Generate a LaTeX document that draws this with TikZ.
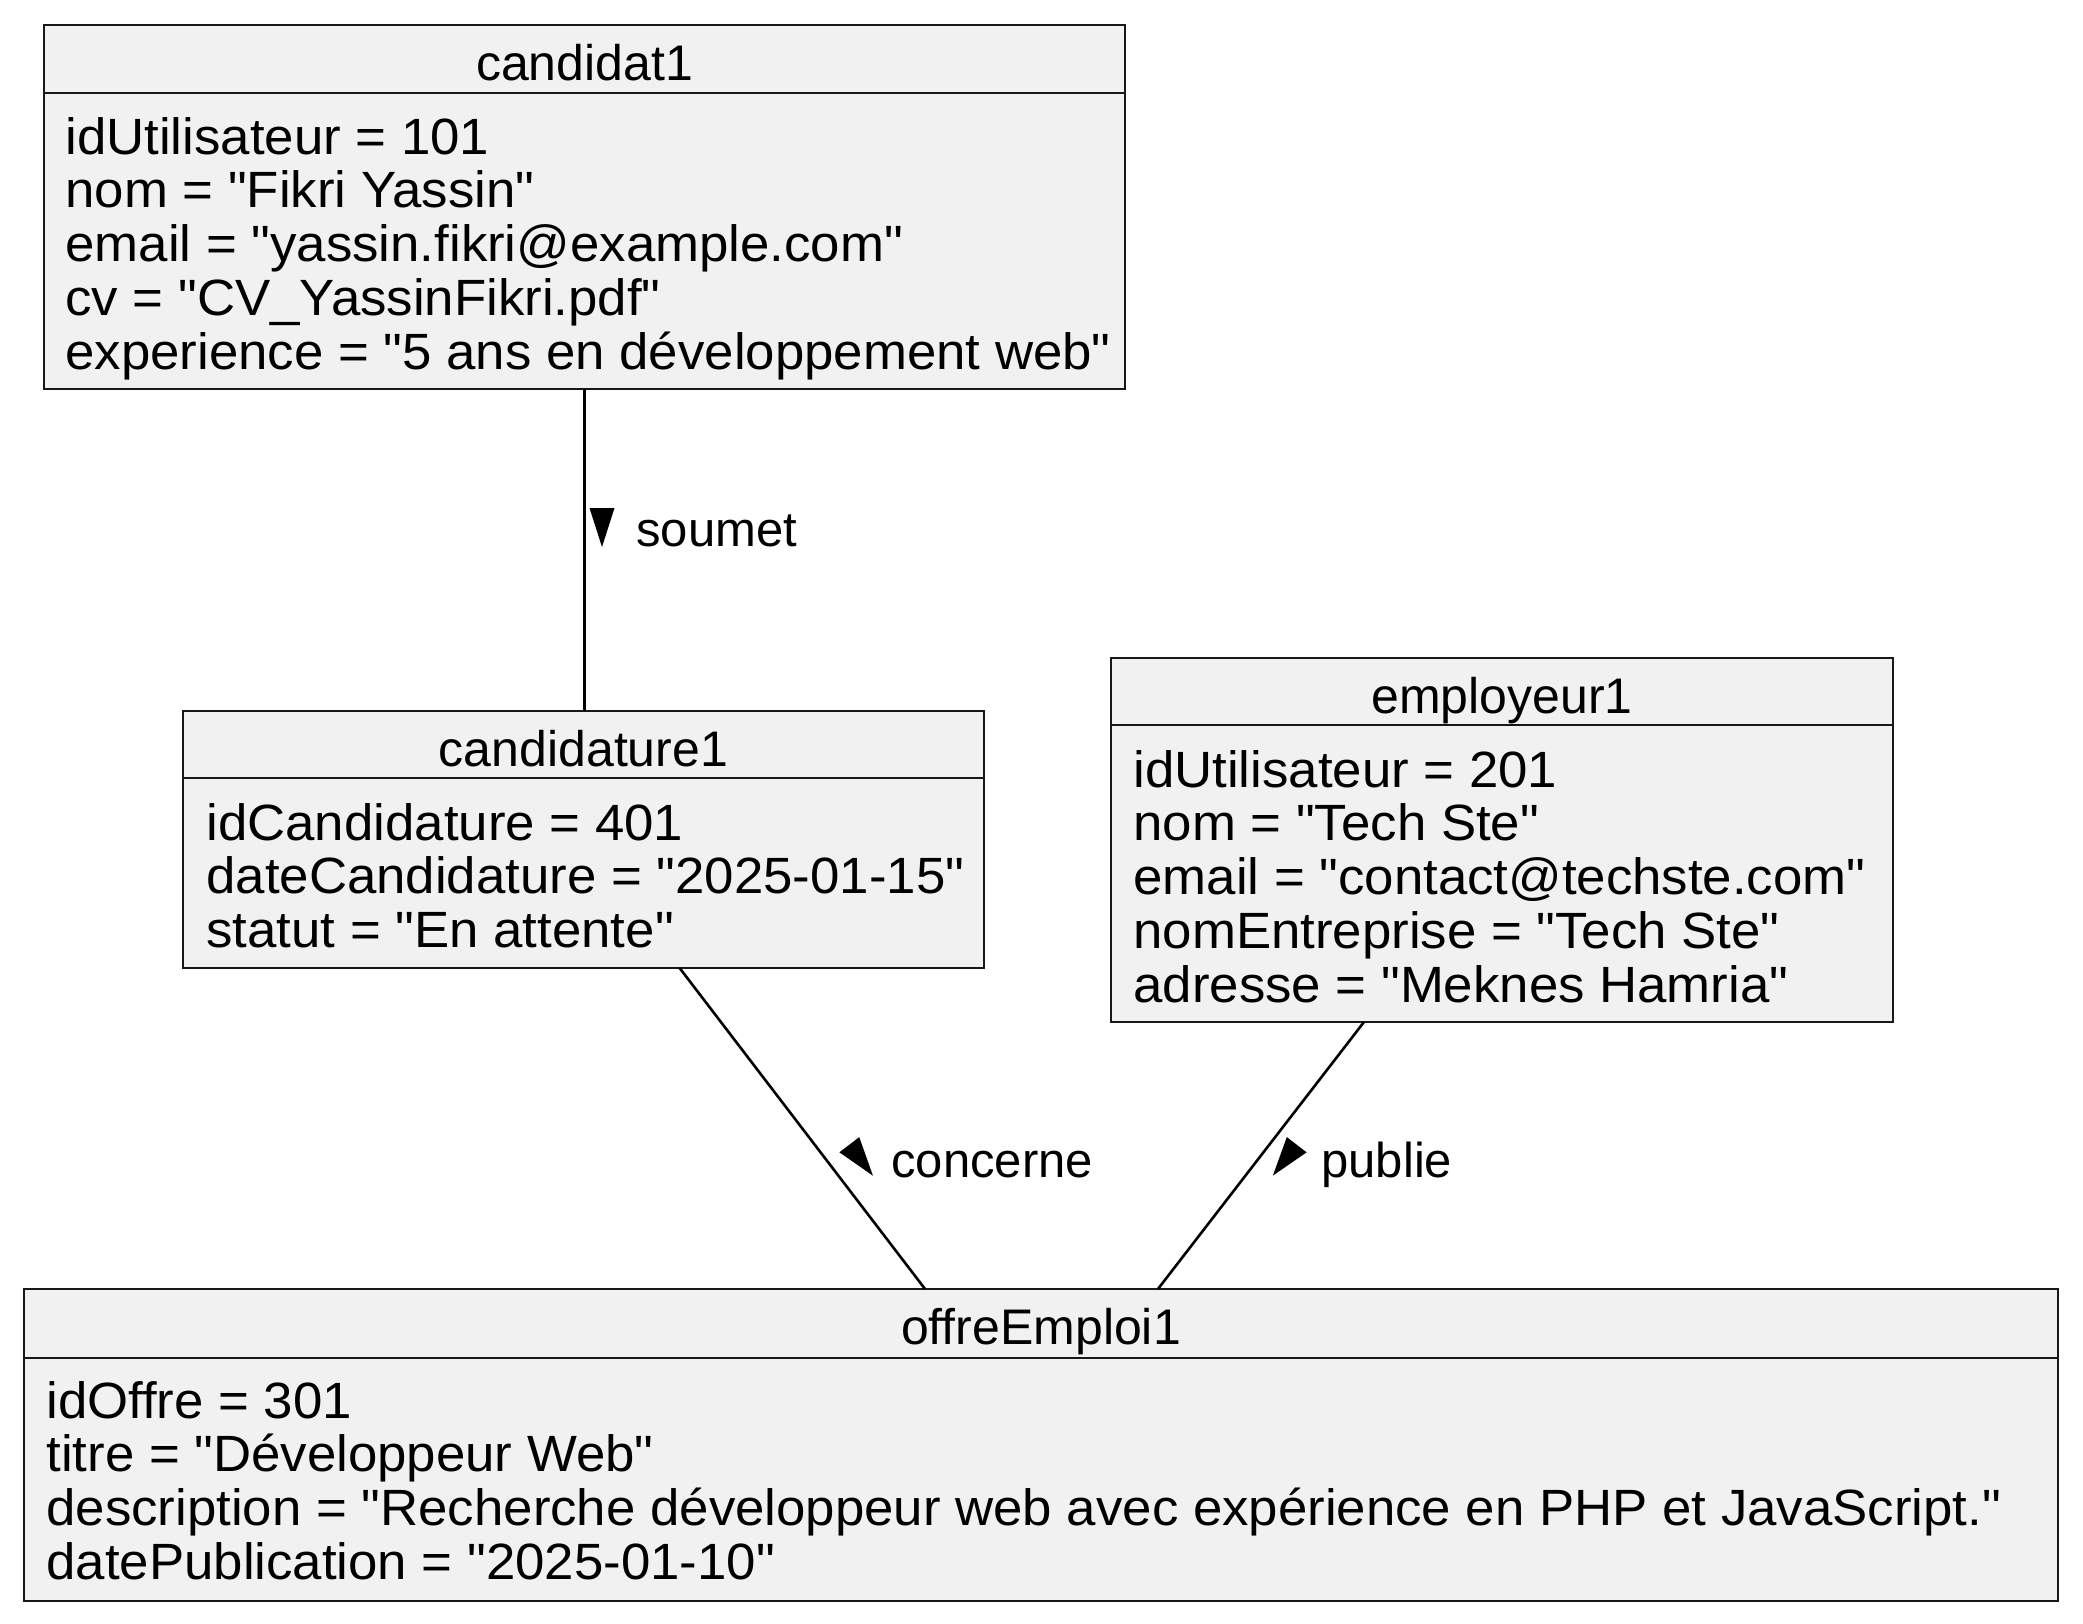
\documentclass[tikz,border=0pt]{standalone}
\usepackage{fontspec}
\setmainfont{Liberation Sans}
\newfontfamily\attrfont{Liberation Sans}[FakeStretch=1.035]
\usetikzlibrary{fit,calc}
\definecolor{objfill}{HTML}{F1F1F1}
\definecolor{objline}{HTML}{181818}
\tikzset{
  objbox/.style={draw=objline, fill=objfill, line width=1pt, inner sep=0pt, outer sep=0pt},
  sepline/.style={draw=objline, line width=1pt},
  objtitle/.style={font=\fontsize{25}{30}\selectfont, inner sep=0pt, anchor=base},
  objattr/.style={font=\attrfont\fontsize{25.5}{30}\selectfont, inner sep=0pt, anchor=base west},
  assoc/.style={draw=black, line width=1.3pt},
  assoclbl/.style={font=\fontsize{24.5}{30}\selectfont, inner sep=0pt, anchor=base west},
}
% filled direction mark: base midpoint, angle
\newcommand{\dirmark}[2]{\fill[shift={#1},rotate=#2] (0,-12.5) -- (0,12.5) -- (39,0) -- cycle;}
\begin{document}
\begin{tikzpicture}[x=0.5pt,y=-0.5pt]
\path[fill=white,use as bounding box] (0,0) rectangle (2083,1623);
% candidat1
\node[objbox,fit={(44,25) (1125,389)}] (cand) {};
\node[objtitle] (cand-t) at (584.5,80) {candidat1};
\draw[sepline] (44,93) -- (1125,93);
\foreach \txt [count=\i] in {idUtilisateur = 101, nom = "Fikri Yassin", email = "yassin.fikri@example.com", cv = "CV\_YassinFikri.pdf", experience = "5 ans en développement web"}
  \node[objattr] (cand-\i) at (65,{154+53.8*(\i-1)}) {\txt};
% candidature1
\node[objbox,fit={(183,711) (984,968)}] (candidature) {};
\node[objtitle] (candidature-t) at (583.5,766) {candidature1};
\draw[sepline] (183,778) -- (984,778);
\foreach \txt [count=\i] in {idCandidature = 401, dateCandidature = "2025-01-15", statut = "En attente"}
  \node[objattr] (candidature-\i) at (206,{840+53.8*(\i-1)}) {\txt};
% employeur1
\node[objbox,fit={(1111,658) (1893,1022)}] (employeur) {};
\node[objtitle] (employeur-t) at (1502,713) {employeur1};
\draw[sepline] (1111,725) -- (1893,725);
\foreach \txt [count=\i] in {idUtilisateur = 201, nom = "Tech Ste", email = "contact@techste.com", nomEntreprise = "Tech Ste", adresse = "Meknes Hamria"}
  \node[objattr] (employeur-\i) at (1133,{787+53.8*(\i-1)}) {\txt};
% offreEmploi1
\node[objbox,fit={(24,1289) (2058,1601)}] (offre) {};
\node[objtitle] (offre-t) at (1041,1344) {offreEmploi1};
\draw[sepline] (24,1358) -- (2058,1358);
\foreach \txt [count=\i] in {idOffre = 301, titre = "Développeur Web", description = "Recherche développeur web avec expérience en PHP et JavaScript.", datePublication = "2025-01-10"}
  \node[objattr] (offre-\i) at (46,{1418+53.8*(\i-1)}) {\txt};
% links
\draw[assoc] (cand.south) -- (cand.south |- candidature.north);
\draw[assoc] ($(candidature.south west)!0.62!(candidature.south east)$) -- ($(offre.north west)!0.443!(offre.north east)$);
\draw[assoc] ($(employeur.south west)!0.3235!(employeur.south east)$) -- ($(offre.north west)!0.5575!(offre.north east)$);
\dirmark{(602,508)}{-90}
\node[assoclbl] (soumet) at (636,546) {soumet};
\dirmark{(849.3,1144.7)}{-52.65}
\node[assoclbl] (concerne) at (891,1177) {concerne};
\dirmark{(1296.7,1144.7)}{-127.65}
\node[assoclbl] (publie) at (1321,1177) {publie};
\end{tikzpicture}
\end{document}
